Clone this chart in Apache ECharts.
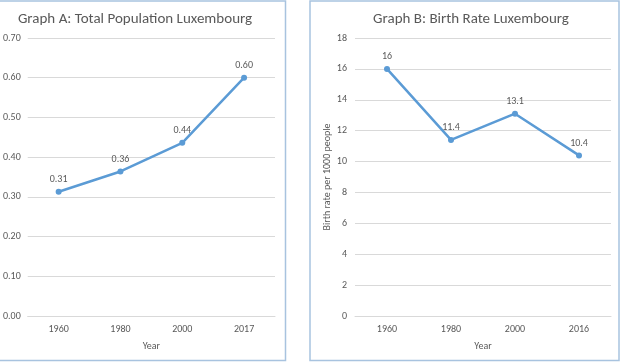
<!DOCTYPE html>
<html>
<head>
<meta charset="utf-8">
<script src="https://cdn.jsdelivr.net/npm/echarts@6/dist/echarts.min.js"></script>
<style>
  html, body { margin: 0; padding: 0; background: #fff; }
  #main { width: 623px; height: 363px; }
</style>
</head>
<body>
<div id="main"></div>
<script>
// 图A: 人口 (百万)
var yearsA = ['1960', '1980', '2000', '2017'];
var populationA = [0.313, 0.364, 0.436, 0.600];
// 图B: 出生率
var yearsB = ['1960', '1980', '2000', '2016'];
var birthRateB = [16, 11.4, 13.1, 10.4];

var txtColor = '#595959';
var lineColor = '#5b9bd5';
var gridColor = '#d9d9d9';
var fontFam = 'Calibri, "Liberation Sans", "Open Sans", sans-serif';

var myChart = echarts.init(document.getElementById('main'));

function seriesStyle(data, xi, fmt) {
    return {
        type: 'line',
        xAxisIndex: xi,
        yAxisIndex: xi,
        data: data,
        symbol: 'circle',
        symbolSize: 6,
        lineStyle: { color: lineColor, width: 2.5 },
        itemStyle: { color: lineColor },
        label: {
            show: true,
            position: 'top',
            distance: 4,
            color: txtColor,
            fontSize: 10,
            fontFamily: fontFam,
            formatter: fmt
        },
        animation: false
    };
}

var catAxis = function (idx, data) {
    return {
        type: 'category',
        gridIndex: idx,
        data: data,
        boundaryGap: true,
        name: 'Year',
        nameLocation: 'middle',
        nameGap: 25,
        nameTextStyle: { color: txtColor, fontSize: 10, fontFamily: fontFam },
        axisLine: { show: true, lineStyle: { color: gridColor } },
        axisTick: { show: false },
        axisLabel: { color: txtColor, fontSize: 10, fontFamily: fontFam, margin: 8 }
    };
};

var option = {
    backgroundColor: '#fff',
    title: [
        {
            text: 'Graph A: Total Population Luxembourg',
            left: 130, top: 7, textAlign: 'center',
            textStyle: { color: txtColor, fontSize: 15, fontWeight: 'normal', fontFamily: fontFam }
        },
        {
            text: 'Graph B: Birth Rate Luxembourg',
            left: 466, top: 7, textAlign: 'center',
            textStyle: { color: txtColor, fontSize: 15, fontWeight: 'normal', fontFamily: fontFam }
        }
    ],
    graphic: [
        { type: 'rect', shape: { x: -2, y: 1, width: 287.5, height: 359.5 },
          style: { fill: null, stroke: '#a8c3df', lineWidth: 1.5 }, z: -1 },
        { type: 'rect', shape: { x: 310, y: 1, width: 309, height: 359.5 },
          style: { fill: null, stroke: '#a8c3df', lineWidth: 1.5 }, z: -1 }
    ],
    grid: [
        { left: 26, top: 38, width: 249, height: 278 },
        { left: 355, top: 38, width: 256, height: 278 }
    ],
    xAxis: [catAxis(0, yearsA), catAxis(1, yearsB)],
    yAxis: [
        {
            type: 'value', gridIndex: 0, min: 0, max: 0.7, interval: 0.1,
            axisLine: { show: false }, axisTick: { show: false },
            axisLabel: { color: txtColor, fontSize: 10, fontFamily: fontFam, margin: 7,
                formatter: function (v) { return v.toFixed(2); } },
            splitLine: { lineStyle: { color: gridColor } }
        },
        {
            type: 'value', gridIndex: 1, min: 0, max: 18, interval: 2,
            name: 'Birth rate per 1000 people',
            nameLocation: 'middle', nameGap: 16,
            nameTextStyle: { color: txtColor, fontSize: 10, fontFamily: fontFam },
            axisLine: { show: false }, axisTick: { show: false },
            axisLabel: { color: txtColor, fontSize: 10, fontFamily: fontFam, margin: 8 },
            splitLine: { lineStyle: { color: gridColor } }
        }
    ],
    series: [
        seriesStyle(populationA, 0, function (p) { return p.value.toFixed(2); }),
        seriesStyle(birthRateB, 1, function (p) { return String(p.value); })
    ]
};

myChart.setOption(option);
</script>
</body>
</html>
